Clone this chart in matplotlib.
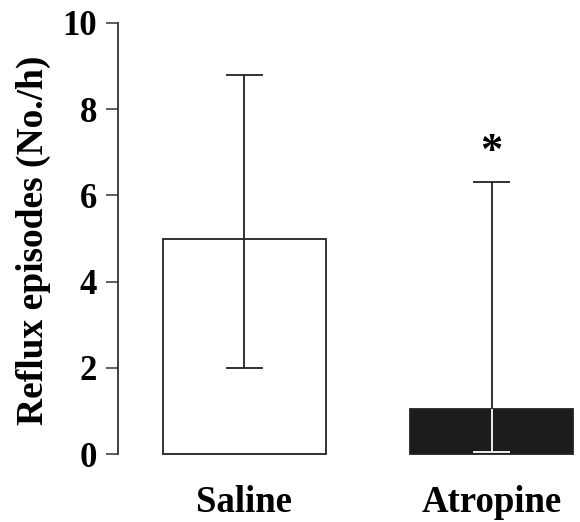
import matplotlib
matplotlib.use("Agg")
import matplotlib.pyplot as plt

plt.rcParams['font.family'] = ['Liberation Serif', 'DejaVu Serif']
plt.rcParams['font.weight'] = 'bold'

# reflux episodes per hour, mean with lower/upper error bounds
groups = ["Saline", "Atropine"]
means = [5.0, 1.05]
err_low = [2.0, 0.05]
err_high = [8.8, 6.3]
bar_colors = ["white", "#1c1c1c"]
star_y = 7.0

fig = plt.figure(figsize=(5.8, 5.22), dpi=100)
ax = fig.add_axes([118 / 580, 64.5 / 522, 457 / 580, 434.5 / 522])

x = [0, 1]
ax.bar(x, means, width=0.66, color=bar_colors, edgecolor="#222222",
       linewidth=1.3, zorder=2)

cap = 0.073
for i in range(len(groups)):
    lo, hi, m = err_low[i], err_high[i], means[i]
    # whisker above the bar is always black
    ax.vlines(x[i], m, hi, color="#222222", lw=1.3, zorder=3)
    ax.hlines(hi, x[i] - cap, x[i] + cap, color="#222222", lw=1.3, zorder=3)
    # whisker inside the bar contrasts with the fill
    inner = "#222222" if bar_colors[i] == "white" else "white"
    ax.vlines(x[i], lo, m, color=inner, lw=1.3, zorder=3)
    ax.hlines(lo, x[i] - cap, x[i] + cap, color=inner, lw=1.3, zorder=3)

ax.text(x[1], star_y, "*", ha="center", va="center", fontsize=32,
        fontweight="bold")

ax.set_xlim(-0.512, 1.338)
ax.set_ylim(-0.08, 10)
ax.set_yticks([0, 2, 4, 6, 8, 10])
ax.set_xticks(x)
ax.set_xticklabels(groups, fontsize=26.5, fontweight="bold")
ax.tick_params(axis="x", length=0, pad=20)
ax.tick_params(axis="y", direction="out", length=9, width=1.1, pad=6,
               labelsize=25, color="#333333")
for lab in ax.get_yticklabels():
    lab.set_fontweight("bold")

for s in ["top", "right", "bottom"]:
    ax.spines[s].set_visible(False)
ax.spines["left"].set_bounds(0, 10)
ax.spines["left"].set_linewidth(1.3)
ax.spines["left"].set_color("#333333")

ax.set_ylabel("Reflux episodes (No./h)", fontsize=27, fontweight="bold",
              labelpad=8)

fig.savefig("out.png", dpi=100)
